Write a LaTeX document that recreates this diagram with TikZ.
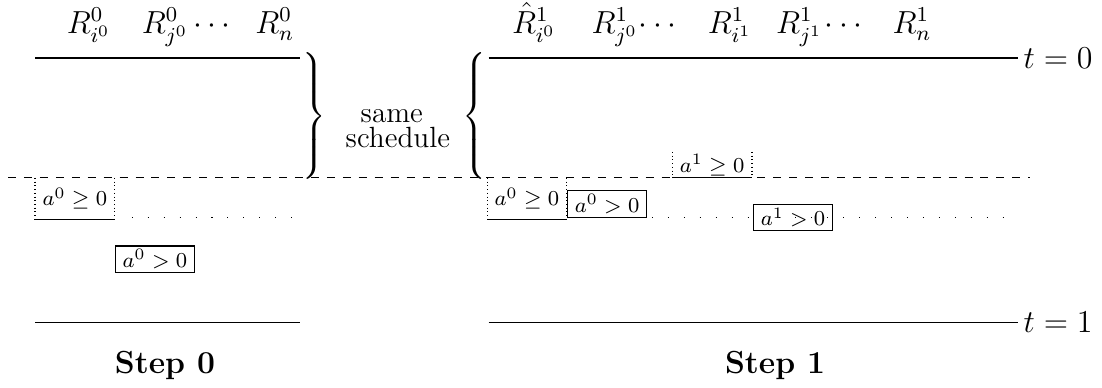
\documentclass[tikz,border=0pt]{standalone}
\usepackage{amsmath,amssymb}
\tikzset{
  lab/.style={font=\fontsize{8}{9}\selectfont, inner sep=0pt, minimum width=1.04cm},
  solidbox/.style={lab, draw, minimum height=0.35cm},
  openbox/.style={lab, minimum height=0.53cm},
  sparse/.style={dash pattern=on 0.4pt off 5.6pt},
  res/.style={anchor=base, inner sep=1pt, font=\large},
  word/.style={anchor=base, inner sep=1pt, font=\fontsize{11}{12}\selectfont},
  curly/.style={inner sep=0pt}
}
\begin{document}
\begin{tikzpicture}
  \useasboundingbox (-0.463,-4.365) rectangle (14.114,0.767);
  % time lines
  \draw (0,0) -- (3.5,0);
  \draw (0,-3.5) -- (3.5,-3.5);
  \draw (6,0) -- (13,0) node[right, font=\large, inner sep=2pt] (t0) {$t=0$};
  \draw (6,-3.5) -- (13,-3.5) node[right, font=\large, inner sep=2pt] (t1) {$t=1$};
  \draw[dashed] (-0.357,-1.587) -- (13.16,-1.587);
  % resources
  \foreach \x/\lab in {0.71/R^0_{i^0}, 1.72/R^0_{j^0}, 2.38/\cdots, 3.17/R^0_n}
    \node[res] at (\x,0.33) {$\lab$};
  \foreach \x/\lab in {6.60/\hat{R}^1_{i^0}, 7.67/R^1_{j^0}, 8.27/\cdots, 9.19/R^1_{i^1},
                       10.11/R^1_{j^1}, 10.73/\cdots, 11.60/R^1_n}
    \node[res] at (\x,0.33) {$\lab$};
  % braces
  \node[curly] (rb) at (3.68,-0.79) {$\left.\vrule height 0.8cm depth 0.8cm width 0pt\right\}$};
  \node[curly] (lb) at (5.83,-0.79) {$\left\{\vrule height 0.8cm depth 0.8cm width 0pt\right.$};
  \node[word] (same) at (4.72,-0.86) {same};
  \node[word] (sched) at (4.80,-1.19) {schedule};
  % step 0
  \node[openbox, anchor=north west] (ge0) at (0,-1.587) {$a^0\geq 0$};
  \draw[densely dotted] (ge0.north west) -- (ge0.south west);
  \draw[densely dotted] (ge0.north east) -- (ge0.south east);
  \draw (ge0.south west) -- (ge0.south east);
  \draw[sparse] (1.28,-2.116) -- (3.5,-2.116);
  \node[solidbox, anchor=north west] (gt0) at (1.06,-2.48) {$a^0>0$};
  % step 1
  \node[openbox, anchor=north west] (ge1a) at (5.98,-1.587) {$a^0\geq 0$};
  \draw[densely dotted] (ge1a.north west) -- (ge1a.south west);
  \draw[densely dotted] (ge1a.north east) -- (ge1a.south east);
  \draw (ge1a.south west) -- (ge1a.south east);
  \node[solidbox, anchor=south west] (gt1a) at (7.04,-2.116) {$a^0>0$};
  \node[openbox, anchor=south west, minimum height=0.33cm] (ge1b) at (8.43,-1.587) {$a^1\geq 0$};
  \draw[densely dotted] (ge1b.north west) -- (ge1b.south west);
  \draw[densely dotted] (ge1b.north east) -- (ge1b.south east);
  \draw (ge1b.south west) -- (ge1b.south east);
  \node[solidbox, anchor=north west] (gt1b) at (9.50,-1.93) {$a^1>0$};
  \draw[sparse] (8.16,-2.116) -- (13.0,-2.116);
  % steps
  \node[anchor=base, font=\large] (s0) at (1.72,-4.18) {\textbf{Step 0}};
  \node[anchor=base, font=\large] (s1) at (9.79,-4.18) {\textbf{Step 1}};
\end{tikzpicture}
\end{document}
